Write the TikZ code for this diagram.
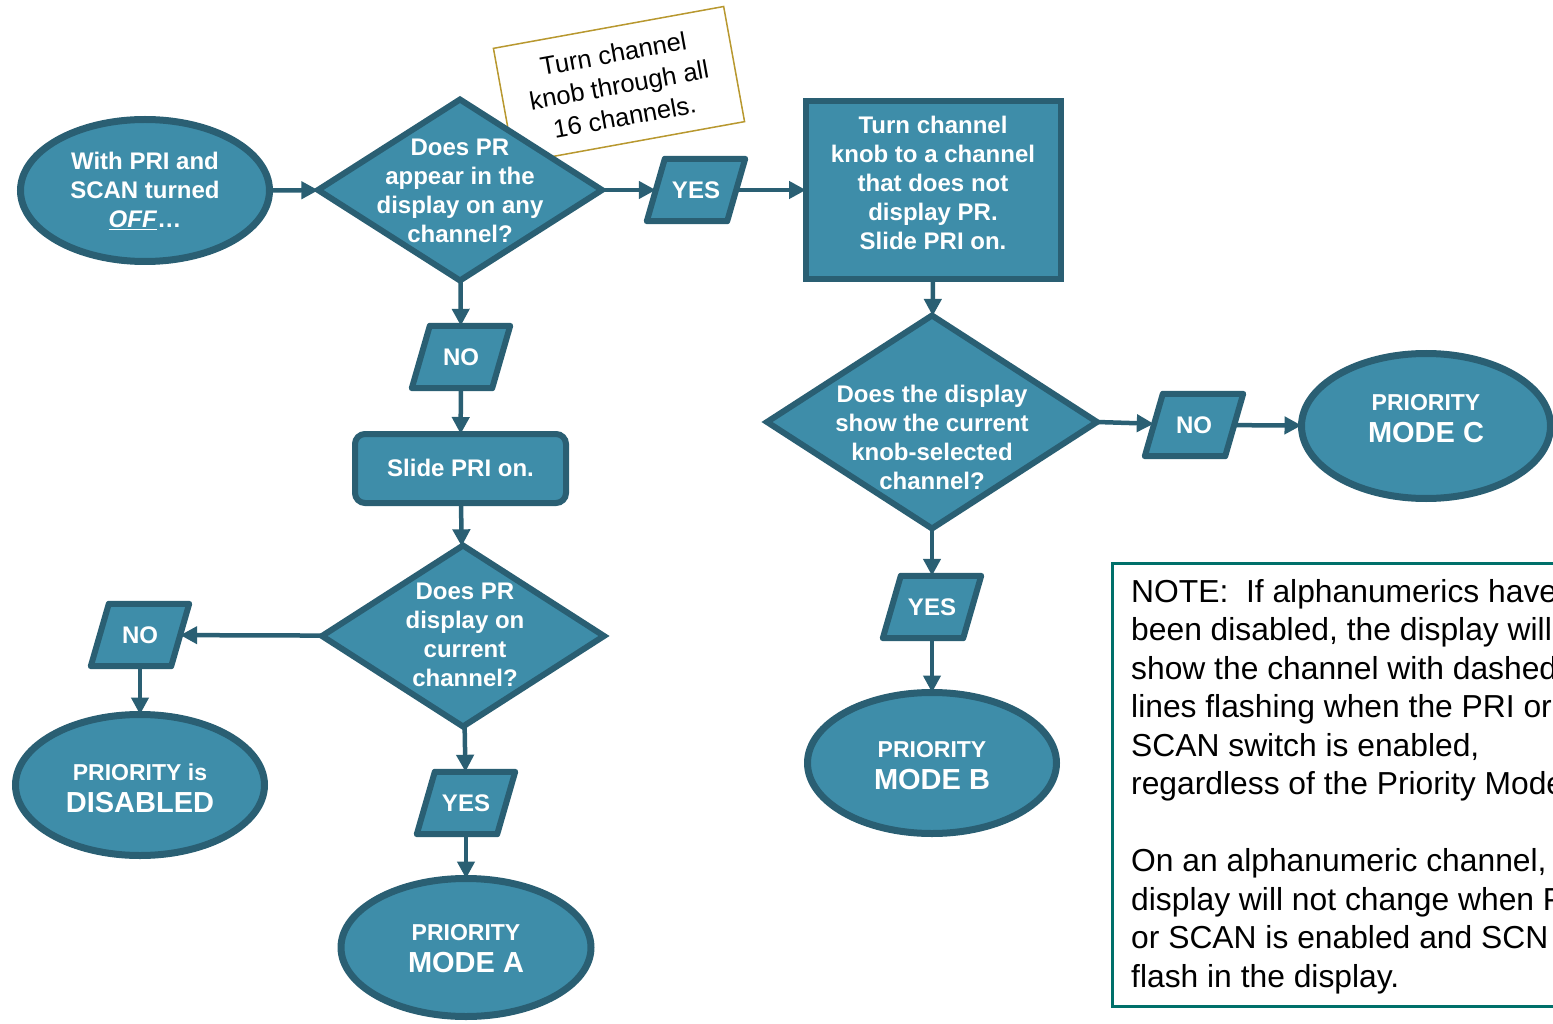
\documentclass[tikz,border=0pt]{standalone}
\usepackage{fontspec}
\setmainfont{Liberation Sans}
\usetikzlibrary{shapes.geometric,arrows.meta,calc}
\definecolor{fillc}{HTML}{3E8DA9}
\definecolor{edgec}{HTML}{2A5F73}
\definecolor{notec}{HTML}{00706A}
\definecolor{goldc}{HTML}{B8982F}
\newcommand\paral[3]{%
  \node[pbox] (#1) at (#2) {};
  \draw[pshape] ([xshift=9pt]#1.north west) -- ([xshift=9pt]#1.north east) -- ([xshift=-9pt]#1.south east) -- ([xshift=-9pt]#1.south west) -- cycle;
  \node[wt] (#1t) at (#1) {#3};
}
\begin{document}
\begin{tikzpicture}[x=1pt,y=-1pt,
 shp/.style={draw=edgec, fill=fillc, line width=6pt, inner sep=0pt, outer sep=0pt},
 ell/.style={shp, ellipse, line width=7pt},
 dia/.style={shp, diamond},
 box/.style={shp, rectangle},
 pbox/.style={rectangle, inner sep=0pt, minimum width=80pt, minimum height=62pt},
 pshape/.style={draw=edgec, fill=fillc, line width=6pt, line join=round},
 wt/.style={text=white, font=\fontsize{24}{29}\selectfont\bfseries, align=center, inner sep=0pt},
 mt/.style={text=white, font=\fontsize{29}{32}\selectfont\bfseries, align=center, inner sep=0pt},
 arr/.style={draw=edgec, line width=4.5pt, -{Triangle[length=17pt,width=17pt]}},
]
\useasboundingbox (0,0) rectangle (1553,1024);
\clip (0,0) rectangle (1553,1024);

% rotated note
\node[draw=goldc, line width=1.5pt, fill=white, rotate=10.3, minimum width=234pt, minimum height=117pt, inner sep=0pt, align=center, font=\fontsize{25.5}{32}\selectfont] (note1) at (619,85) {Turn channel\\knob through all\\16 channels.};

% shapes
\node[ell, minimum width=249pt, minimum height=142pt] (e1) at (145,190.5) {};
\node[wt] (e1t) at (145,191) {With PRI and\\SCAN turned\\\underline{\textit{OFF}}…};

\node[dia, minimum width=284pt, minimum height=181pt] (d1) at (460,190) {};
\node[wt] (d1t) at (460,191) {Does PR\\appear in the\\display on any\\channel?};

\paral{p1}{696,190}{YES}

\node[box, minimum width=255pt, minimum height=178pt] (r1) at (933.5,190) {};
\node[wt] (r1t) at (933,183) {Turn channel\\knob to a channel\\that does not\\display PR.\\Slide PRI on.};

\node[dia, minimum width=330pt, minimum height=213pt] (d2) at (932,422) {};
\node[wt] (d2t) at (932,437) {Does the display\\show the current\\knob-selected\\channel?};

\paral{p2}{1194,425}{NO}

\node[ell, minimum width=249pt, minimum height=145pt] (eC) at (1426,426) {};
\node[mt] (eCt) at (1426,419) {{\fontsize{23}{32}\selectfont PRIORITY}\\MODE C};

\paral{p3}{932,607}{YES}

\node[ell, minimum width=249pt, minimum height=141pt] (eB) at (932,763) {};
\node[mt] (eBt) at (932,766) {{\fontsize{23}{32}\selectfont PRIORITY}\\MODE B};

\paral{p4}{461,357}{NO}

\node[box, rounded corners=10pt, minimum width=211pt, minimum height=69pt] (r2) at (460.5,468.5) {};
\node[wt] (r2t) at (460.5,468) {Slide PRI on.};

\node[dia, minimum width=282pt, minimum height=181pt] (d3) at (463,636) {};
\node[wt] (d3t) at (465,635) {Does PR\\display on\\current\\channel?};

\paral{p6}{140,635}{NO}

\node[ell, minimum width=249pt, minimum height=141pt] (eD) at (140,785) {};
\node[mt] (eDt) at (140,788) {{\fontsize{23}{32}\selectfont PRIORITY is}\\DISABLED};

\paral{p5}{466,803}{YES}

\node[ell, minimum width=250pt, minimum height=138pt] (eA) at (466,947.5) {};
\node[mt] (eAt) at (466,949) {{\fontsize{23}{32}\selectfont PRIORITY}\\MODE A};

% note box
\draw[notec, line width=3pt] (1112.5,563.5) rectangle (1600,1006.5);
\node[anchor=north west, inner sep=0pt, align=left, font=\fontsize{31.8}{38.5}\selectfont] (note2) at (1131,579) {NOTE:~ If alphanumerics have\\been disabled, the display will\\show the channel with dashed\\lines flashing when the PRI or\\SCAN switch is enabled,\\regardless of the Priority Mode\\[38.5pt]On an alphanumeric channel,\\display will not change when PRI\\or SCAN is enabled and SCN\\flash in the display.};

% connectors
\draw[arr] (e1) -- (d1);
\draw[arr] (d1) -- (p1);
\draw[arr] (p1) -- (r1);
\draw[arr] (r1) -- (d2);
\draw[arr] (d2.east) -- (p2);
\draw[arr] (p2) -- (eC);
\draw[arr] (d2) -- (p3);
\draw[arr] (p3) -- (eB);
\draw[arr] (d1) -- (p4);
\draw[arr] (p4) -- (r2);
\draw[arr] (r2) -- (d3);
\draw[arr] (d3) -- (p5);
\draw[arr] (p5) -- (eA);
\draw[arr] (d3) -- (p6);
\draw[arr] (p6) -- (eD);
\end{tikzpicture}
\end{document}
